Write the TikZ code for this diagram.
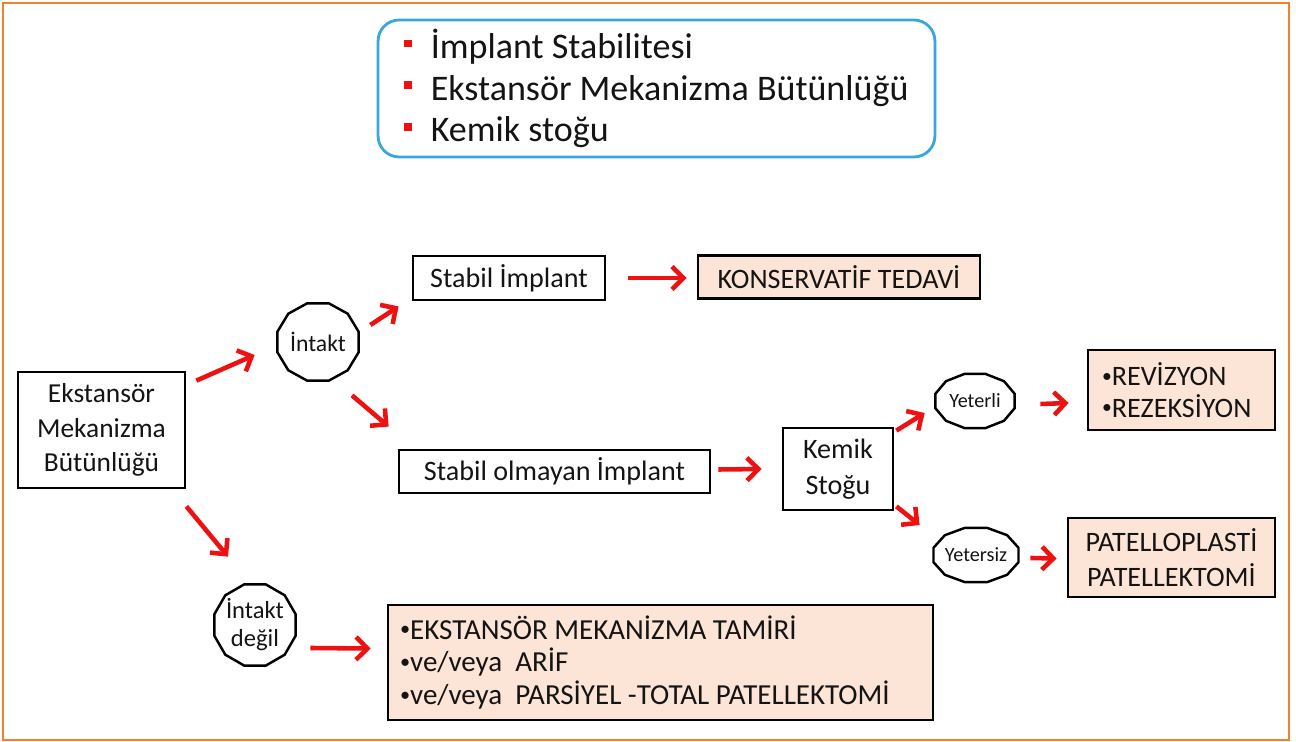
\documentclass[tikz,border=0pt]{standalone}
\usepackage{fontspec}
\setmainfont{Carlito}
\usetikzlibrary{arrows.meta,shapes.geometric,calc}
\definecolor{rouge}{HTML}{EE1111}
\definecolor{peche}{HTML}{FCE4D6}
\definecolor{turkuaz}{HTML}{3AA6DB}
\definecolor{turuncu}{HTML}{F4812A}
\definecolor{metin}{HTML}{141414}
\newcommand{\kare}{\textcolor{rouge}{\rule[0.3em]{4.5pt}{4.5pt}}}
\newcommand{\nokta}{\raisebox{0.12em}{\scalebox{0.7}{•}}}

\begin{document}
\begin{tikzpicture}[x=0.02cm,y=-0.02cm,
  kutu/.style={draw,line width=1.6pt,text=metin,font=\fontsize{16}{19}\selectfont,align=center,inner sep=2pt},
  sonuc/.style={kutu,fill=peche},
  karar/.style={ellipse,inner sep=0pt,align=center,text=metin},
  ok/.style={-{Straight Barb[length=6.5pt,width=13pt]},line width=2.6pt,rouge}]
  \useasboundingbox (0,0) rectangle (1296,742);
  \draw[turuncu,line width=1.2pt] (3,3) rectangle (1289,740);
  % ---- kriterler
  \node[draw=turkuaz,line width=1.6pt,rounded corners=12pt,minimum width=11.14cm,minimum height=2.74cm,
        align=left,text=metin,font=\fontsize{20.5}{23.8}\selectfont] (krit) at (656.5,88.5)
        {\kare\hspace{10.5pt}İmplant Stabilitesi\\ \kare\hspace{10.5pt}Ekstansör Mekanizma Bütünlüğü\\ \kare\hspace{10.5pt}Kemik stoğu};
  % ---- kutular
  \node[kutu,minimum width=3.34cm,minimum height=2.32cm,font=\fontsize{15.6}{19.8}\selectfont] (ek) at (101.5,430) {Ekstansör\\Mekanizma\\Bütünlüğü};
  \node[kutu,minimum width=3.84cm,minimum height=0.88cm] (stab) at (509,278) {Stabil İmplant};
  \node[sonuc,minimum width=5.64cm,minimum height=0.86cm] (kons) at (839,277) {KONSERVATİF TEDAVİ};
  \node[kutu,minimum width=6.22cm,minimum height=0.86cm] (unst) at (554.5,471.5) {Stabil olmayan İmplant};
  \node[kutu,minimum width=2.2cm,minimum height=1.64cm,font=\fontsize{16}{20.5}\selectfont] (kemik) at (838,469) {Kemik\\Stoğu};
  \node[sonuc,minimum width=3.74cm,minimum height=1.6cm,inner xsep=0.28cm,text width=3.18cm,align=flush left,font=\fontsize{16}{18.2}\selectfont] (rev) at (1181.5,390) {\nokta REVİZYON\\\nokta REZEKSİYON};
  \node[sonuc,minimum width=4.14cm,minimum height=1.58cm,font=\fontsize{16}{19.8}\selectfont] (pat) at (1171.5,557.5) {PATELLOPLASTİ\\PATELLEKTOMİ};
  \node[sonuc,minimum width=10.9cm,minimum height=2.3cm,inner xsep=0.24cm,text width=10.42cm,align=flush left,font=\fontsize{16.5}{18.7}\selectfont] (ext) at (660.5,662.5)
        {\nokta EKSTANSÖR MEKANİZMA TAMİRİ\\\nokta ve/veya~ ARİF\\\nokta ve/veya~ PARSİYEL -TOTAL PATELLEKTOMİ};
  % ---- karar noktalari
  \node[karar,minimum width=1.68cm,minimum height=1.6cm,font=\fontsize{13.5}{15}\selectfont] (int) at (318,342) {İntakt};
  \node[karar,minimum width=1.68cm,minimum height=1.68cm,font=\fontsize{14}{16}\selectfont] (intd) at (255,625) {İntakt\\değil};
  \node[karar,minimum width=1.64cm,minimum height=1.12cm,font=\fontsize{11.5}{13}\selectfont] (yet) at (975,401) {Yeterli};
  \node[karar,minimum width=1.76cm,minimum height=1.12cm,font=\fontsize{11.5}{13}\selectfont] (yts) at (976,555) {Yetersiz};
  \foreach \n/\rx/\ry in {int/42/40,intd/42/42,yet/41/28,yts/44/28}
    \draw[line width=1.4pt] ($(\n)+({\rx*cos(15)},{\ry*sin(15)})$) \foreach \a in {45,75,...,345}{ -- ($(\n)+({\rx*cos(\a)},{\ry*sin(\a)})$)} -- cycle;
  % ---- oklar
  \draw[ok] ([shift={(10,10)}]ek.north east) -- ([shift={(-21,13)}]int.west);
  \draw[ok] ([shift={(10,-17)}]int.east) -- ([shift={(-13,5)}]stab.south west);
  \draw[ok] ([shift={(34,13)}]int.south) -- ([shift={(-9,-22)}]unst.north west);
  \draw[ok] ([shift={(0,17)}]ek.south east) -- ([shift={(-27,-26)}]intd.north);
  \draw[ok] ([shift={(13,23)}]intd.east) -- ([shift={(-16,-14)}]ext.west);
  \draw[ok] ([shift={(22,0)}]stab.east) -- ([shift={(-10,1)}]kons.west);
  \draw[ok] ([shift={(7,-2)}]unst.east) -- ([shift={(-20,0)}]kemik.west);
  \draw[ok] ([shift={(2,4)}]kemik.north east) -- ([shift={(-9,12)}]yet.west);
  \draw[ok] ([shift={(2,-5)}]kemik.south east) -- ([shift={(-12,-30)}]yts.west);
  \draw[ok] ([shift={(24,3)}]yet.east) -- ([shift={(-18,13)}]rev.west);
  \draw[ok] ([shift={(10,3)}]yts.east) -- ([shift={(-10,1)}]pat.west);
\end{tikzpicture}
\end{document}
